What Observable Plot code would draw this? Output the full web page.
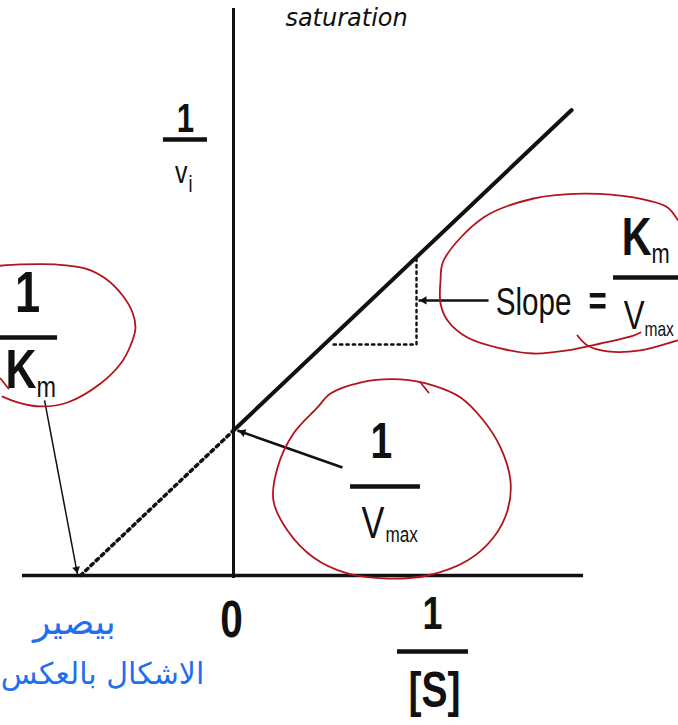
<!DOCTYPE html>
<html>
<head>
<meta charset="utf-8">
<script src="https://cdn.jsdelivr.net/npm/d3@7"></script>
<script src="https://cdn.jsdelivr.net/npm/@observablehq/plot@0.6"></script>
<style>
  html, body { margin: 0; padding: 0; background: #fff; }
  #chart svg { display: block; }
</style>
</head>
<body>
<div id="chart"></div>
<script>
// Lineweaver–Burk (double reciprocal) plot: 1/v = (Km/Vmax)(1/[S]) + 1/Vmax
// Units chosen so that Km = 1 and Vmax = 1.
const Km = 1;
const Vmax = 1;

// Solid part of the line (measured region, 1/[S] >= 0)
const solidX = [0, 2.21];
const solidY = [1, 3.21];
// Extrapolated part back to the x-intercept (-1/Km, 0)
const dashedX = [-1, 0];
const dashedY = [0, 1];

// Slope triangle under the line
const triX = [0.654, 1.196, 1.196];
const triY = [1.593, 1.593, 2.196];

const W = 678, H = 725;
const xDomain = [-233 / 153, 445 / 153];
const yDomain = [-150 / 145, 575 / 145];

const labelFont = "'Liberation Sans', Arial, sans-serif";
const narrow = 0.78; // horizontal squeeze of the label lettering

// Axis lines
const axisX = [{x1: -1.379, x2: 2.288, y: 0}];
const axisY = [{y1: -0.02, y2: 3.91, x: 0}];

// Fraction bars of the labels
const bars = [
  {x1: -0.458, x2: -0.170, y: 3.007},    // 1/vi
  {x1: -1.523, x2: -1.150, y: 1.641},    // 1/Km
  {x1: 0.765, x2: 1.222, y: 0.614},      // 1/Vmax
  {x1: 2.484, x2: 2.987, y: 2.055},      // Km/Vmax
  {x1: 1.072, x2: 1.536, y: -0.524}      // 1/[S]
];

// Bold label glyphs (baseline positions)
const boldLabels = [
  {x: -0.314, y: 3.062, text: "1", size: 40, anchor: "middle"},
  {x: -1.346, y: 1.814, text: "1", size: 58, anchor: "middle"},
  {x: -1.288, y: 1.290, text: "K", size: 55, anchor: "end"},
  {x: 0.967, y: 0.807, text: "1", size: 50, anchor: "middle"},
  {x: 2.379, y: 1.800, text: "=", size: 40, anchor: "middle"},
  {x: 2.732, y: 2.207, text: "K", size: 53, anchor: "end"},
  {x: -0.013, y: -0.421, text: "0", size: 52, anchor: "middle"},
  {x: 1.301, y: -0.372, text: "1", size: 46, anchor: "middle"},
  {x: 1.314, y: -0.910, text: "[S]", size: 50, anchor: "middle"}
];

// Regular-weight label glyphs and subscripts
const plainLabels = [
  {x: -0.301, y: 2.710, text: "v", size: 32, anchor: "end"},
  {x: -0.294, y: 2.648, text: "i", size: 23, anchor: "start"},
  {x: -1.288, y: 1.228, text: "m", size: 30, anchor: "start"},
  {x: 0.987, y: 0.262, text: "V", size: 44, anchor: "end"},
  {x: 0.993, y: 0.234, text: "max", size: 22, anchor: "start"},
  {x: 1.961, y: 1.800, text: "Slope", size: 38, anchor: "middle"},
  {x: 2.732, y: 2.152, text: "m", size: 28, anchor: "start"},
  {x: 2.686, y: 1.703, text: "V", size: 40, anchor: "end"},
  {x: 2.686, y: 1.655, text: "max", size: 20, anchor: "start"}
];

// Pointer arrows (tail -> tip)
const arrows = [
  {x1: 1.667, y1: 1.897, x2: 1.209, y2: 1.897, w: 2.5},
  {x1: 0.712, y1: 0.745, x2: 0.026, y2: 1.0, w: 2.5},
  {x1: -1.235, y1: 1.207, x2: -1.020, y2: 0.010, w: 1.5}
];

// Red pen loops drawn around the labels
const loopKm = [
  [-1.588, 2.131], [-1.392, 2.145], [-1.163, 2.145], [-0.967, 2.117], [-0.837, 2.048],
  [-0.725, 1.931], [-0.660, 1.814], [-0.641, 1.703], [-0.673, 1.586], [-0.732, 1.469],
  [-0.869, 1.324], [-1.085, 1.193], [-1.261, 1.166], [-1.405, 1.193], [-1.510, 1.234]
];
const tickKm = [[-1.523, 1.359], [-1.471, 1.290]];
const loopSlope = [
  [2.660, 1.676], [2.614, 1.655], [2.399, 1.600], [2.183, 1.552], [1.961, 1.531],
  [1.745, 1.566], [1.529, 1.641], [1.399, 1.759], [1.353, 1.876], [1.353, 2.034],
  [1.373, 2.172], [1.634, 2.469], [1.961, 2.600], [2.288, 2.634], [2.614, 2.607],
  [2.837, 2.538], [2.908, 2.448], [2.987, 2.366]
];
const tailSlope = [
  [2.248, 1.655], [2.314, 1.586], [2.444, 1.545], [2.660, 1.552], [2.902, 1.621], [2.987, 1.648]
];
const loopVmax = [
  [0.634, 1.255], [0.830, 1.331], [1.092, 1.352], [1.307, 1.310], [1.484, 1.228],
  [1.634, 1.069], [1.745, 0.883], [1.810, 0.655], [1.791, 0.448], [1.699, 0.262],
  [1.529, 0.103], [1.268, 0.0], [1.007, -0.021], [0.745, 0.014], [0.523, 0.124],
  [0.353, 0.310], [0.261, 0.517], [0.288, 0.745], [0.392, 0.979], [0.549, 1.159]
];
const hookVmax = [[1.222, 1.331], [1.275, 1.262]];

// Handwritten notes
const blueNotes = [
  {x: -1.040, y: -0.400, text: "بيصير", size: 36},
  {x: -0.856, y: -0.745, text: "الاشكال بالعكس", size: 30}
];
const blackNotes = [
  {x: 0.739, y: 3.790, text: "saturation"}
];

// Arrowheads: filled triangles aligned with each arrow in screen space
const xs = Plot.scale({x: {domain: xDomain, range: [0, W]}});
const ys = Plot.scale({y: {domain: yDomain, range: [H, 0]}});
const heads = arrows.map(a => {
  const px1 = xs.apply(a.x1), py1 = ys.apply(a.y1);
  const px2 = xs.apply(a.x2), py2 = ys.apply(a.y2);
  const len = Math.hypot(px2 - px1, py2 - py1);
  const ux = (px2 - px1) / len, uy = (py2 - py1) / len;
  const back = a.w > 2 ? 5.6 : 5.0;
  return {
    x: xs.invert(px2 - ux * back),
    y: ys.invert(py2 - uy * back),
    rotate: Math.atan2(uy, ux) * 180 / Math.PI + 90,
    r: a.w > 2 ? 3.4 : 3.0
  };
});

const red = "#b3141c";
const ink = "#111";

// One text mark per anchor (textAnchor is a constant option)
function labelMarks(data, weight) {
  return ["start", "middle", "end"].map(anchor =>
    Plot.text(data.filter(d => d.anchor === anchor), {
      x: "x", y: "y", text: "text", fontSize: "size",
      textAnchor: anchor, lineAnchor: "bottom",
      fontWeight: weight, fontFamily: labelFont, fill: ink
    })
  );
}

const chart = Plot.plot({
  width: W,
  height: H,
  margin: 0,
  x: {domain: xDomain, axis: null},
  y: {domain: yDomain, axis: null},
  style: {background: "white", overflow: "hidden"},
  marks: [
    // axes
    Plot.ruleY(axisX, {x1: "x1", x2: "x2", y: "y", stroke: ink, strokeWidth: 3.5}),
    Plot.ruleX(axisY, {y1: "y1", y2: "y2", x: "x", stroke: ink, strokeWidth: 3}),
    // Lineweaver–Burk line
    Plot.line(solidX.map((x, i) => ({x, y: solidY[i]})), {x: "x", y: "y", stroke: ink, strokeWidth: 4}),
    Plot.line(dashedX.map((x, i) => ({x, y: dashedY[i]})), {x: "x", y: "y", stroke: ink, strokeWidth: 3.5, strokeDasharray: "3,4.2"}),
    Plot.line(triX.map((x, i) => ({x, y: triY[i]})), {x: "x", y: "y", stroke: ink, strokeWidth: 2.4, strokeDasharray: "2.4,4"}),
    // fraction bars
    Plot.ruleY(bars, {x1: "x1", x2: "x2", y: "y", stroke: ink, strokeWidth: 4.5}),
    // labels
    ...labelMarks(boldLabels, "bold"),
    ...labelMarks(plainLabels, "normal"),
    // arrows
    Plot.link(arrows, {x1: "x1", y1: "y1", x2: "x2", y2: "y2", stroke: ink, strokeWidth: "w"}),
    Plot.dot(heads, {x: "x", y: "y", r: "r", rotate: "rotate", symbol: "triangle", fill: ink, stroke: "none"}),
    // red pen annotations
    Plot.line(loopKm, {curve: "catmull-rom", stroke: red, strokeWidth: 1.8}),
    Plot.line(tickKm, {stroke: red, strokeWidth: 1.8}),
    Plot.line(loopSlope, {curve: "catmull-rom", stroke: red, strokeWidth: 1.8}),
    Plot.line(tailSlope, {curve: "catmull-rom", stroke: red, strokeWidth: 1.8}),
    Plot.line(loopVmax, {curve: "catmull-rom-closed", stroke: red, strokeWidth: 1.8}),
    Plot.line(hookVmax, {stroke: red, strokeWidth: 1.8}),
    // handwritten notes
    Plot.text(blueNotes, {x: "x", y: "y", text: "text", fontSize: "size", lineAnchor: "bottom", fontFamily: "'DejaVu Sans', sans-serif", fill: "#1f6fef"}),
    Plot.text(blackNotes, {x: "x", y: "y", text: "text", fontSize: 24, lineAnchor: "bottom", fontStyle: "italic", fontFamily: "'DejaVu Sans', sans-serif", fill: ink})
  ]
});

// Squeeze the label lettering horizontally around each anchor point
const labelTexts = [];
for (const g of chart.querySelectorAll("g")) {
  if (g.getAttribute("font-family") === labelFont) labelTexts.push(...g.querySelectorAll("text"));
}
for (const t of labelTexts) {
  const base = t.getAttribute("transform") || "";
  const x = t.getAttribute("x");
  const y = t.getAttribute("y");
  if (x !== null || y !== null) {
    t.removeAttribute("x");
    t.removeAttribute("y");
    t.setAttribute("transform", `${base} translate(${+x || 0},${+y || 0}) scale(${narrow},1)`);
  } else {
    t.setAttribute("transform", `${base} scale(${narrow},1)`);
  }
}

document.getElementById("chart").appendChild(chart);
</script>
</body>
</html>
